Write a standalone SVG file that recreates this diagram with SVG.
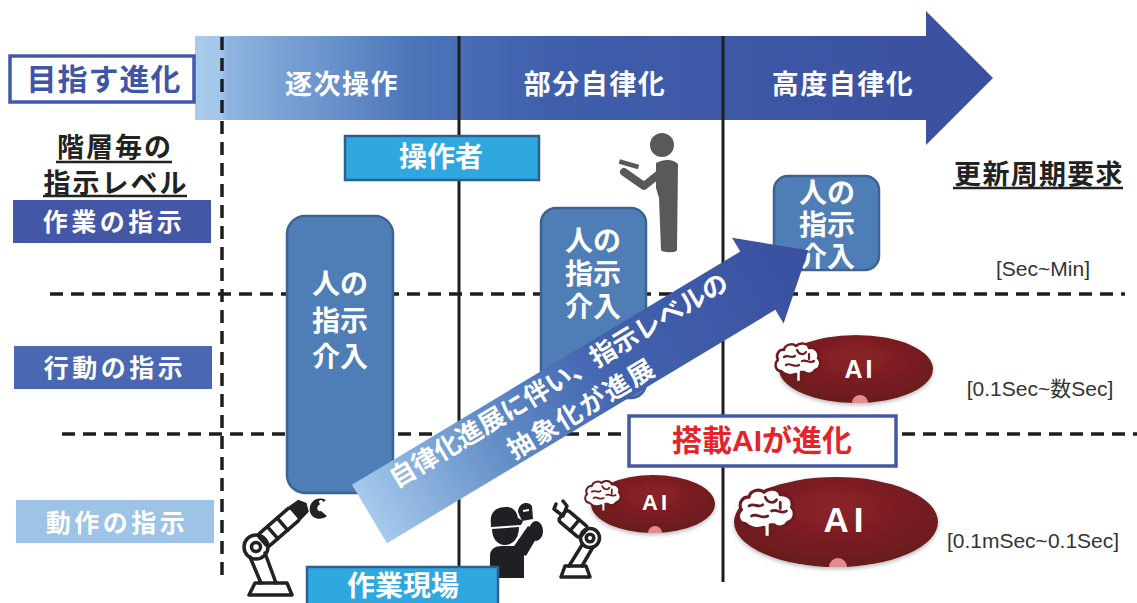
<svg xmlns="http://www.w3.org/2000/svg" width="1137" height="603" viewBox="0 0 1137 603">
  <defs>
    <style>
      .jp { font-family: 'Liberation Sans', 'Noto Sans CJK JP', sans-serif; font-weight: bold; }
      .hdr { font-size: 27px; fill: #fff; letter-spacing: 1.5px; text-anchor: middle; }
      .lvl { font-size: 25px; fill: #fff; letter-spacing: 3.5px; text-anchor: middle; }
      .ttl { font-size: 27px; fill: #222; letter-spacing: 2px; text-anchor: middle; }
      .box-t { font-size: 28px; fill: #fff; text-anchor: middle; }
      .rate { font-family: 'Liberation Sans', 'Noto Sans CJK JP', sans-serif; font-size: 21px; fill: #333; text-anchor: middle; }
      .dash { fill: none; stroke: #1e1e1e; stroke-width: 3.5; stroke-dasharray: 13 8; }
      .vline { stroke: #1e1e1e; stroke-width: 3; }
      .uline { stroke: #222; stroke-width: 2.5; }
      .inter { fill: #4f7eb6; stroke: #3b6494; stroke-width: 2.5; }
      .tag { fill: #2ea8df; stroke: #2f5f8f; stroke-width: 2.5; }
      .ai-body { fill: url(#aiFill); filter: url(#soft); }
      .ai-dot { fill: #e38b8f; }
      .ai-t { font-family: 'Liberation Sans', sans-serif; font-weight: bold; fill: #fff; text-anchor: middle; }
      .icon-line { fill: none; stroke: #222; stroke-width: 3.5; stroke-linejoin: round; stroke-linecap: round; }
    </style>
    <linearGradient id="bandFill" gradientUnits="userSpaceOnUse" x1="195" y1="0" x2="993" y2="0">
      <stop offset="0" stop-color="#a8cbeb"/>
      <stop offset="0.033" stop-color="#a3c7ea"/>
      <stop offset="0.04" stop-color="#8fb5e0"/>
      <stop offset="0.27" stop-color="#4d76ba"/>
      <stop offset="0.45" stop-color="#3f5eab"/>
      <stop offset="1" stop-color="#3b4f9e"/>
    </linearGradient>
    <linearGradient id="trendFill" gradientUnits="userSpaceOnUse" x1="0" y1="0" x2="512" y2="0">
      <stop offset="0" stop-color="#a6c9eb"/>
      <stop offset="0.3" stop-color="#5f8bc6"/>
      <stop offset="0.55" stop-color="#4263ae"/>
      <stop offset="1" stop-color="#3a4f9f"/>
    </linearGradient>
    <radialGradient id="aiFill" cx="0.5" cy="0.35" r="0.7">
      <stop offset="0" stop-color="#8c2227"/>
      <stop offset="1" stop-color="#661a1d"/>
    </radialGradient>
    <filter id="soft" x="-10%" y="-15%" width="120%" height="140%">
      <feDropShadow dx="0" dy="2" stdDeviation="2" flood-color="#777" flood-opacity="0.5"/>
    </filter>
    <symbol id="brain" viewBox="0 0 50 44">
      <path d="M8,30 C2,30 1,22 5,19 C2,14 6,8 11,9 C12,3 20,2 23,5 C27,1 35,2 36,7 C42,6 47,11 45,17 C49,21 47,28 42,29 C40,33 34,34 31,31 L28,31 L28,41 L23,41 L23,33 C18,35 12,34 8,30 Z" fill="#fff" stroke="#6e1b1f" stroke-width="2.5" stroke-linejoin="round"/>
      <path d="M11,16 C15,13 18,18 22,15 M24,9 C26,14 31,14 33,11 M29,20 C33,18 37,23 41,20 M13,24 C17,21 21,27 26,24 M36,13 L36,18" fill="none" stroke="#6e1b1f" stroke-width="2.2" stroke-linecap="round"/>
    </symbol>
  </defs>

  <rect width="1137" height="603" fill="#fff"/>

  <!-- evolution band across the top -->
  <g id="evolution-band">
    <path d="M195,36 H926 V11 L993,78 L926,145 V120 H195 Z" fill="url(#bandFill)"/>
    <text class="jp hdr" x="342" y="94">逐次操作</text>
    <text class="jp hdr" x="595" y="94">部分自律化</text>
    <text class="jp hdr" x="843" y="94">高度自律化</text>
  </g>

  <g id="goal-label">
    <rect x="10" y="56" width="184" height="46" fill="#fff" stroke="#4458a8" stroke-width="3.5"/>
    <text class="jp" x="104" y="90" font-size="30" fill="#3f55a5" text-anchor="middle" letter-spacing="1">目指す進化</text>
  </g>

  <g id="level-title">
    <text class="jp ttl" x="115" y="157">階層毎の</text>
    <line class="uline" x1="56" y1="162" x2="172" y2="162"/>
    <text class="jp ttl" x="116" y="193">指示レベル</text>
    <line class="uline" x1="43" y1="196" x2="187" y2="196"/>
  </g>

  <g id="cycle-title">
    <text class="jp" x="1039" y="184" font-size="27" fill="#222" text-anchor="middle" letter-spacing="1.3">更新周期要求</text>
    <line class="uline" x1="953" y1="188" x2="1123" y2="188"/>
  </g>

  <!-- grid: stage separators and level separators -->
  <g id="grid">
    <line class="dash" x1="222" y1="37" x2="222" y2="580"/>
    <line class="vline" x1="459" y1="36" x2="459" y2="568"/>
    <line class="vline" x1="723" y1="36" x2="723" y2="582"/>
    <line class="dash" x1="50" y1="294" x2="1125" y2="294"/>
    <line class="dash" x1="62" y1="434" x2="1137" y2="434"/>
  </g>

  <g id="level-task">
    <rect x="13" y="200" width="198" height="43" fill="#4457a7"/>
    <text class="jp lvl" x="114" y="231">作業の指示</text>
  </g>
  <g id="level-action">
    <rect x="14" y="346" width="198" height="43" fill="#4a67b1"/>
    <text class="jp lvl" x="115" y="377">行動の指示</text>
  </g>
  <g id="level-motion">
    <rect x="16" y="500" width="198" height="43" fill="#9dc3e6"/>
    <text class="jp lvl" x="117" y="532">動作の指示</text>
  </g>

  <g id="rate-task"><text class="rate" x="1043" y="276">[Sec~Min]</text></g>
  <g id="rate-action"><text class="rate" x="1040" y="396">[0.1Sec~数Sec]</text></g>
  <g id="rate-motion"><text class="rate" x="1033" y="548">[0.1mSec~0.1Sec]</text></g>

  <g id="operator-tag">
    <rect class="tag" x="345" y="136" width="194" height="44"/>
    <text class="jp box-t" x="441" y="167">操作者</text>
  </g>

  <g id="operator-figure" fill="#58595b">
    <circle cx="662" cy="145" r="12"/>
    <path d="M656,163 C664,159 673,159 678,164 L677,250 C677,253 662,253 661,250 L659,198 L656,188 Z"/>
    <polyline points="664,170 644,186 624,172" fill="none" stroke="#58595b" stroke-width="8" stroke-linejoin="round" stroke-linecap="round"/>
    <rect x="619" y="162" width="20" height="4.5" transform="rotate(16 629 164)"/>
  </g>

  <!-- human intervention blocks -->
  <g id="intervene-sequential">
    <rect class="inter" x="287" y="216" width="106" height="277" rx="18"/>
    <text class="jp box-t" x="340" y="294">人の</text>
    <text class="jp box-t" x="340" y="331">指示</text>
    <text class="jp box-t" x="340" y="367">介入</text>
  </g>
  <g id="intervene-partial">
    <rect class="inter" x="541" y="208" width="105" height="190" rx="15"/>
    <text class="jp box-t" x="593" y="251">人の</text>
    <text class="jp box-t" x="593" y="284">指示</text>
    <text class="jp box-t" x="593" y="317">介入</text>
  </g>
  <g id="intervene-advanced">
    <rect class="inter" x="774" y="176" width="105" height="94" rx="14"/>
    <text class="jp box-t" x="827" y="203">人の</text>
    <text class="jp box-t" x="827" y="235">指示</text>
    <text class="jp box-t" x="827" y="267">介入</text>
  </g>

  <!-- onboard AI -->
  <g id="ai-action">
    <ellipse class="ai-body" cx="856" cy="369" rx="77" ry="34"/>
    <path class="ai-dot" d="M852,403 A8,8 0 0 1 868,403 Z"/>
    <use href="#brain" x="773" y="341" width="50" height="44"/>
    <text class="ai-t" x="860" y="378" font-size="25" letter-spacing="3">AI</text>
  </g>
  <g id="ai-motion-partial">
    <ellipse class="ai-body" cx="653" cy="504" rx="62" ry="29"/>
    <path class="ai-dot" d="M648,533 A7,7 0 0 1 662,533 Z"/>
    <use href="#brain" x="583" y="479" width="40" height="35"/>
    <text class="ai-t" x="656" y="510" font-size="22" letter-spacing="3">AI</text>
  </g>
  <g id="ai-motion-advanced">
    <ellipse class="ai-body" cx="836" cy="522" rx="102" ry="45"/>
    <path class="ai-dot" d="M829,567 A9,9 0 0 1 847,567 Z"/>
    <use href="#brain" x="735" y="486" width="63" height="55"/>
    <text class="ai-t" x="846" y="532" font-size="35" letter-spacing="5">AI</text>
  </g>

  <g id="ai-evolves">
    <rect x="629" y="416" width="267" height="50" fill="#fff" stroke="#4458a8" stroke-width="3.5"/>
    <text class="jp" x="762" y="451" font-size="30" fill="#e3242b" text-anchor="middle">搭載AIが進化</text>
  </g>

  <!-- field equipment icons -->
  <g id="robot-arm-left">
    <path class="icon-line" d="M249,595 H292 L287,583 H255 Z"/>
    <path class="icon-line" d="M261,583 L250,557 M276,583 L265,553"/>
    <circle class="icon-line" cx="256" cy="547" r="12"/>
    <circle class="icon-line" cx="256" cy="547" r="4.5"/>
    <g transform="translate(256,547) rotate(-41)">
      <rect class="icon-line" x="9" y="-8" width="43" height="16" rx="3"/>
      <line class="icon-line" x1="22" y1="-8" x2="22" y2="8"/>
      <line class="icon-line" x1="35" y1="-8" x2="35" y2="8"/>
      <path d="M52,-9 L63,-8 L67,0 L63,8 L52,9 Z" fill="#222"/>
    </g>
    <path d="M326,500 C316,495 308,503 310,512 C312,519 321,521 327,516 L321,511 C317,512 316,507 319,505 Z" fill="#222"/>
    <circle cx="321" cy="502" r="2" fill="#fff"/>
  </g>

  <g id="field-worker" fill="#1f2023">
    <path d="M491,524 C489,511 498,506 508,507 C514,508 517,512 518,518 L523,521 L521,525 L491,527 Z"/>
    <path d="M492,529 L519,527 C519,538 513,545 505,545 C497,545 492,538 492,529 Z"/>
    <path d="M490,578 V556 C490,549 495,546 502,546 L514,546 L524,553 L524,578 Z"/>
    <path d="M512,549 L528,526 L540,532 L526,556 Z"/>
    <ellipse cx="536" cy="531" rx="7" ry="10"/>
    <path d="M518,512 C518,503 528,500 532,506 L533,519 L522,521 Z"/>
    <path d="M523,511 L529,510" stroke="#fff" stroke-width="1.8"/>
  </g>

  <g id="robot-arm-right">
    <path class="icon-line" d="M561,577 H590 L586,566 H565 Z"/>
    <path class="icon-line" d="M569,566 L582,545 M582,566 L593,547"/>
    <circle class="icon-line" cx="590" cy="538" r="9.5"/>
    <circle class="icon-line" cx="590" cy="538" r="3.8"/>
    <g transform="translate(590,538) rotate(-140)">
      <rect class="icon-line" x="8" y="-7" width="28" height="14" rx="3"/>
      <line class="icon-line" x1="20" y1="-7" x2="20" y2="7"/>
    </g>
    <path class="icon-line" d="M563,516 L554,509 L556,504 M563,516 L567,506 L563,501"/>
  </g>

  <g id="site-tag">
    <rect class="tag" x="307" y="567" width="191" height="40"/>
    <text class="jp box-t" x="403" y="596" font-size="29">作業現場</text>
  </g>

  <!-- trend arrow: abstraction of instructions grows with autonomy -->
  <g id="trend-arrow" transform="translate(369.5,514) rotate(-31)">
    <path d="M0,-34 H453 V-50 L512,0 L453,50 V34 H0 Z" fill="url(#trendFill)"/>
    <text class="jp" x="231" y="-8" font-size="26" fill="#fff" text-anchor="middle">自律化進展に伴い、指示レベルの</text>
    <text class="jp" x="236" y="28" font-size="26" fill="#fff" text-anchor="middle" letter-spacing="2">抽象化が進展</text>
  </g>
</svg>
